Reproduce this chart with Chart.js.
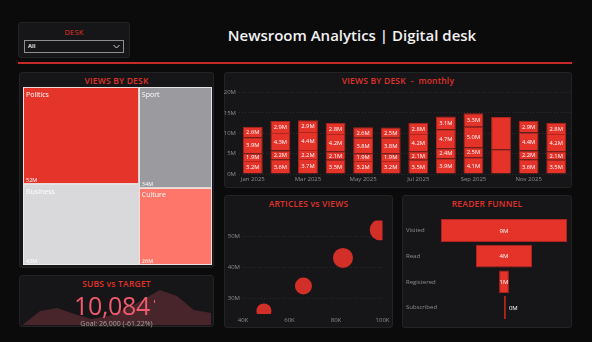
<!DOCTYPE html>
<html>
<head>
<meta charset="utf-8">
<script src="https://cdn.jsdelivr.net/npm/chart.js@4.4.1/dist/chart.umd.min.js"></script>
<style>
  body { margin: 0; width: 592px; height: 342px; overflow: hidden; background: #0b0b0c;
         font-family: "Open Sans", "Noto Sans", sans-serif; position: relative; }
  .card { position: absolute; background: #161618; border: 1px solid #232326; border-radius: 3px; box-sizing: border-box; }
  .ttl { position: absolute; left: 0; right: 0; top: 2px; line-height: 12px; text-align: center;
         color: #e0322b; font-size: 8.5px; font-weight: 600; letter-spacing: 0.2px; }
  canvas { position: absolute; }
  .abs { position: absolute; }
</style>
</head>
<body>

<div class="card" style="left:18px;top:22px;width:112px;height:36px;">
  <div class="ttl" style="top:3px;font-size:7.5px;font-weight:400;">DESK</div>
  <div class="abs" style="left:5px;top:17px;width:100px;height:13px;border:1px solid #8e8e8e;box-sizing:border-box;">
    <span class="abs" style="left:3px;top:0;line-height:11px;font-size:6px;color:#fff;font-weight:600;">All</span>
    <svg class="abs" style="right:3px;top:3px;" width="7" height="5"><polyline points="0.5,1 3.5,4 6.5,1" fill="none" stroke="#cfcfcf" stroke-width="1"/></svg>
  </div>
</div>

<div class="abs" style="left:152px;top:25px;width:400px;text-align:center;line-height:20px;color:#f2f2f2;font-size:15px;font-weight:600;">Newsroom Analytics | Digital desk</div>
<div class="abs" style="left:18px;top:62px;width:554px;height:1.5px;background:#c62a28;"></div>

<div class="card" style="left:19px;top:72px;width:195px;height:196px;"><div class="ttl">VIEWS BY DESK</div></div>
<div class="card" style="left:224px;top:72px;width:348px;height:116px;"><div class="ttl">VIEWS BY DESK&nbsp; - &nbsp;monthly</div></div>
<div class="card" style="left:224px;top:195px;width:169px;height:133px;"><div class="ttl">ARTICLES vs VIEWS</div></div>
<div class="card" style="left:402px;top:195px;width:170px;height:133px;"><div class="ttl">READER FUNNEL</div></div>
<div class="card" style="left:19px;top:275px;width:195px;height:52px;"><div class="ttl">SUBS vs TARGET</div></div>

<canvas id="treemap" width="189" height="178" style="left:23px;top:87px;"></canvas>
<canvas id="monthly" width="348" height="100" style="left:224px;top:86px;"></canvas>
<canvas id="scatter" width="169" height="116" style="left:224px;top:210px;"></canvas>
<canvas id="funnel" width="164" height="110" style="left:406px;top:214px;"></canvas>
<canvas id="spark" width="192" height="47" style="left:21px;top:278px;"></canvas>

<div class="abs" style="left:19px;top:290px;width:186px;text-align:center;line-height:30px;font-size:25px;letter-spacing:-0.3px;color:#f25a6d;">10,084</div>
<div class="abs" style="left:154px;top:300px;width:1px;height:3px;background:#f25a6d;"></div>
<div class="abs" style="left:19px;top:318px;width:195px;text-align:center;line-height:12px;font-size:7px;color:#a3a3a3;">Goal: 26,000 (-61.22%)</div>

<script>
// desks (treemap + scatter)
var deskNames = ['Politics', 'Business', 'Sport', 'Culture'];
var deskViews = [52, 43, 34, 26];          // M views
var deskArticles = [99, 83, 66, 49];       // K articles
var deskBubble = [10.5, 10, 8.5, 7.5];     // bubble radius
var deskColors = ['#e5352b', '#d9d9db', '#9b9a9f', '#fe766a'];
var treemapColumns = [['Politics', 'Business'], ['Sport', 'Culture']];

// monthly views, stacked bottom -> top
var months = ['Jan 2025', 'Feb 2025', 'Mar 2025', 'Apr 2025', 'May 2025', 'Jun 2025',
              'Jul 2025', 'Aug 2025', 'Sep 2025', 'Oct 2025', 'Nov 2025', 'Dec 2025'];
var seriesA = [3.2, 3.6, 3.7, 3.5, 3.2, 3.2, 3.5, 3.9, 4.1, 6.1, 3.6, 3.5];
var seriesB = [1.9, 2.2, 2.2, 2.1, 1.9, 1.9, 2.1, 2.4, 2.5, null, 2.2, 2.1];
var seriesC = [3.9, 4.3, 4.4, 4.2, 3.8, 3.8, 4.2, 4.7, 5.0, 7.9, 4.4, 4.2];
var seriesD = [2.6, 2.9, 2.9, 2.8, 2.6, 2.5, 2.8, 3.1, 3.3, null, 2.9, 2.8];
var unlabeledMonths = ['Oct 2025'];
var monthlyTicks = [0, 5, 10, 15, 20];

// funnel
var funnelStages = ['Visited', 'Read', 'Registered', 'Subscribed'];
var funnelValues = [9.0, 4.0, 0.7, 0.010084];  // M readers

// subs sparkline
var subsMonthly = [30, 740, 900, 590, 320, 480, 850, 1330, 1860, 1540, 800, 644];

Chart.defaults.font.family = "'Open Sans', 'Noto Sans', sans-serif";
Chart.defaults.animation = false;
Chart.defaults.plugins.legend.display = false;
Chart.defaults.plugins.tooltip.enabled = false;

var red = '#e5332a';
var redEdge = '#b0241e';
var tickGrey = '#8d8d8d';
var gridDots = 'rgba(255,255,255,0.09)';

// treemap drawn through hidden linear scales
var treemapPlugin = {
  id: 'treemapCells',
  afterDraw: function(chart) {
    var ctx = chart.ctx, xs = chart.scales.x, ys = chart.scales.y;
    var x0 = 0;
    treemapColumns.forEach(function(col) {
      var colSum = col.reduce(function(a, n) { return a + deskViews[deskNames.indexOf(n)]; }, 0);
      var y0 = 0;
      col.forEach(function(n) {
        var i = deskNames.indexOf(n);
        var h = deskViews[i] / colSum;
        var l = xs.getPixelForValue(x0), r = xs.getPixelForValue(x0 + colSum);
        var t = ys.getPixelForValue(1 - y0), b = ys.getPixelForValue(1 - y0 - h);
        ctx.save();
        ctx.fillStyle = deskColors[i];
        ctx.fillRect(l, t, r - l, b - t);
        ctx.strokeStyle = 'rgba(236,236,236,0.9)';
        ctx.lineWidth = 1;
        ctx.strokeRect(Math.round(l) + 0.5, Math.round(t) + 0.5, Math.round(r - l) - 1, Math.round(b - t) - 1);
        ctx.fillStyle = '#ffffff';
        ctx.textAlign = 'left';
        ctx.textBaseline = 'top';
        ctx.font = "7px 'Open Sans'";
        ctx.fillText(n, l + 3, t + 4);
        ctx.textBaseline = 'bottom';
        ctx.font = "5.5px 'Open Sans'";
        ctx.fillText(deskViews[i] + 'M', l + 3, b - 1);
        ctx.restore();
        y0 += h;
      });
      x0 += colSum;
    });
  }
};

new Chart(document.getElementById('treemap'), {
  type: 'scatter',
  data: { datasets: [] },
  options: {
    responsive: false,
    layout: { padding: 0 },
    scales: {
      x: { type: 'linear', display: false, min: 0, max: deskViews.reduce(function(a, b) { return a + b; }, 0) },
      y: { type: 'linear', display: false, min: 0, max: 1 }
    }
  },
  plugins: [treemapPlugin]
});

// value labels inside stacked bars
var barLabels = {
  id: 'barLabels',
  afterDatasetsDraw: function(chart) {
    var ctx = chart.ctx;
    ctx.save();
    ctx.font = "5.8px 'Open Sans'";
    ctx.fillStyle = '#ffffff';
    ctx.textAlign = 'center';
    ctx.textBaseline = 'middle';
    chart.data.datasets.forEach(function(ds, di) {
      chart.getDatasetMeta(di).data.forEach(function(bar, i) {
        var v = ds.data[i];
        if (v == null || unlabeledMonths.indexOf(months[i]) >= 0) return;
        ctx.fillText(v.toFixed(1) + 'M', bar.x, (bar.y + bar.base) / 2 + 0.5);
      });
    });
    ctx.restore();
  }
};

function stackSet(data) {
  return { data: data, backgroundColor: red, borderColor: redEdge, borderWidth: 1,
           barPercentage: 0.8, categoryPercentage: 0.9 };
}

new Chart(document.getElementById('monthly'), {
  type: 'bar',
  data: { labels: months, datasets: [stackSet(seriesA), stackSet(seriesB), stackSet(seriesC), stackSet(seriesD)] },
  options: {
    responsive: false,
    layout: { padding: { top: 5, right: 2, left: 0, bottom: 0 } },
    scales: {
      x: {
        stacked: true,
        grid: { display: false, drawTicks: false },
        border: { display: false },
        ticks: { color: tickGrey, font: { size: 6 }, padding: 2, maxRotation: 0, autoSkip: false,
                 callback: function(v, i) { return i % 2 === 0 ? months[i] : ''; } },
        afterFit: function(s) { s.height = 12; }
      },
      y: {
        stacked: true, min: 0, max: 20,
        afterBuildTicks: function(s) { s.ticks = monthlyTicks.map(function(v) { return { value: v }; }); },
        grid: { color: gridDots, drawTicks: false },
        border: { display: false, dash: [1, 2] },
        ticks: { color: tickGrey, font: { size: 6 }, padding: 3, callback: function(v) { return v + 'M'; } },
        afterFit: function(s) { s.width = 15; }
      }
    }
  },
  plugins: [barLabels]
});

new Chart(document.getElementById('scatter'), {
  type: 'bubble',
  data: {
    datasets: [{
      data: deskNames.map(function(n, i) { return { x: deskArticles[i], y: deskViews[i], r: deskBubble[i] }; }),
      backgroundColor: '#d22f29', borderWidth: 0, clip: 0
    }]
  },
  options: {
    responsive: false,
    layout: { padding: { top: 5, right: 8, left: 0, bottom: 0 } },
    scales: {
      x: {
        min: 40, max: 100,
        afterBuildTicks: function(s) { s.ticks = [40, 60, 80, 100].map(function(v) { return { value: v }; }); },
        grid: { display: false, drawTicks: false }, border: { display: false },
        ticks: { color: tickGrey, font: { size: 6 }, padding: 3, callback: function(v) { return v + 'K'; } },
        afterFit: function(s) { s.height = 12; }
      },
      y: {
        min: 25, max: 55,
        afterBuildTicks: function(s) { s.ticks = [30, 40, 50].map(function(v) { return { value: v }; }); },
        grid: { color: gridDots, drawTicks: false }, border: { display: false, dash: [1, 2] },
        ticks: { color: tickGrey, font: { size: 6 }, padding: 3, callback: function(v) { return v + 'M'; } },
        afterFit: function(s) { s.width = 19; }
      }
    }
  }
});

var funnelLabels = {
  id: 'funnelLabels',
  afterDatasetsDraw: function(chart) {
    var ctx = chart.ctx;
    ctx.save();
    ctx.font = "6px 'Open Sans'";
    ctx.fillStyle = '#ffffff';
    ctx.textBaseline = 'middle';
    chart.getDatasetMeta(0).data.forEach(function(bar, i) {
      var txt = Math.round(funnelValues[i]) + 'M';
      var w = Math.abs(bar.x - bar.base);
      if (w >= ctx.measureText(txt).width) {
        ctx.textAlign = 'center';
        ctx.fillText(txt, (bar.x + bar.base) / 2, bar.y + 0.5);
      } else {
        ctx.textAlign = 'left';
        ctx.fillText(txt, Math.max(bar.x, bar.base) + 3, bar.y + 0.5);
      }
    });
    ctx.restore();
  }
};

var funnelMax = Math.max.apply(null, funnelValues) / 2;
new Chart(document.getElementById('funnel'), {
  type: 'bar',
  data: {
    labels: funnelStages,
    datasets: [{
      data: funnelValues.map(function(v) { return [-v / 2, v / 2]; }),
      backgroundColor: red, borderColor: redEdge, borderWidth: 1, borderSkipped: false,
      minBarLength: 2, barPercentage: 1, categoryPercentage: 0.89
    }]
  },
  options: {
    indexAxis: 'y',
    responsive: false,
    layout: { padding: { top: 0, right: 3, left: 0, bottom: 0 } },
    scales: {
      x: { display: false, min: -funnelMax, max: funnelMax },
      y: {
        grid: { display: false, drawTicks: false }, border: { display: false },
        ticks: { color: tickGrey, font: { size: 6 }, crossAlign: 'far', padding: 0 },
        afterFit: function(s) { s.width = 35; }
      }
    }
  },
  plugins: [funnelLabels]
});

new Chart(document.getElementById('spark'), {
  type: 'line',
  data: {
    labels: subsMonthly.map(function(v, i) { return i; }),
    datasets: [{ data: subsMonthly, fill: 'origin', backgroundColor: 'rgba(255,95,115,0.21)',
                 borderWidth: 0, pointRadius: 0, tension: 0 }]
  },
  options: {
    responsive: false,
    layout: { padding: { left: 2, right: 2, top: 0, bottom: 0 } },
    scales: { x: { display: false }, y: { display: false, min: 0, max: 2500 } }
  }
});
</script>
</body>
</html>
